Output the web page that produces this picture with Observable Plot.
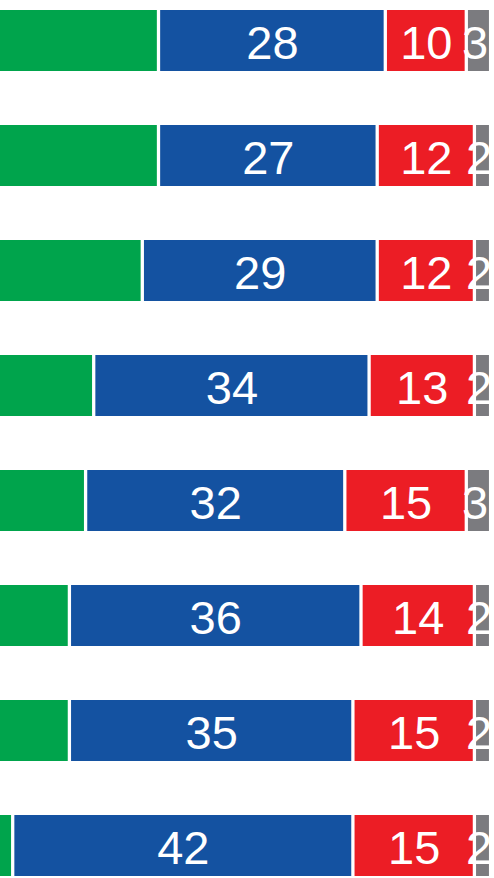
<!DOCTYPE html>
<html>
<head>
<meta charset="utf-8">
<script src="https://cdn.jsdelivr.net/npm/d3@7"></script>
<script src="https://cdn.jsdelivr.net/npm/@observablehq/plot@0.6"></script>
<style>
  html, body { margin: 0; padding: 0; background: #fff; overflow: hidden; }
  #chart svg { display: block; }
</style>
</head>
<body>
<div id="chart"></div>
<script>
const rows = ["r1", "r2", "r3", "r4", "r5", "r6", "r7", "r8"];
const green = [59, 59, 57, 51, 50, 48, 48, 41];
const blue  = [28, 27, 29, 34, 32, 36, 35, 42];
const red   = [10, 12, 12, 13, 15, 14, 15, 15];
const gray  = [3, 2, 2, 2, 3, 2, 2, 2];

const seriesNames = ["S-green", "S-blue", "S-red", "S-gray"];
const seriesValues = [green, blue, red, gray];
const colors = ["#00A44C", "#1452A1", "#EC1D25", "#7B7B7F"];

const data = [];
rows.forEach((r, i) => {
  seriesNames.forEach((s, j) => {
    data.push({row: r, series: s, value: seriesValues[j][i]});
  });
});

const stackOpts = {x: "value", y: "row", z: "series", order: seriesNames};
const textStyle = {
  fill: "white",
  fontSize: 47,
  fontFamily: "Liberation Sans, Arial, sans-serif",
  textAnchor: "middle",
  dy: 3,
  clip: true
};

const plot = Plot.plot({
  width: 494,
  height: 878,
  margin: 0,
  x: {domain: [0, 100], range: [-319.4, 490.6], axis: null},
  y: {domain: rows, range: [8, 878], paddingInner: 0.4675, paddingOuter: 0, align: 0.5, axis: null},
  color: {domain: seriesNames, range: colors},
  marks: [
    Plot.barX(data, Plot.stackX({
      ...stackOpts,
      fill: {value: "series", scale: "color"},
      insetLeft: 1.65,
      insetRight: 1.65,
      clip: true
    })),
    Plot.text(data, Plot.stackX({
      ...stackOpts,
      ...textStyle,
      text: d => (d.series === "S-blue" || d.series === "S-red") ? String(d.value) : null
    })),
    Plot.text(data, Plot.stackX({
      ...stackOpts,
      ...textStyle,
      dx: -4,
      text: d => d.series === "S-gray" ? String(d.value) : null
    }))
  ]
});
plot.style.overflow = "hidden";
document.getElementById("chart").appendChild(plot);
</script>
</body>
</html>
